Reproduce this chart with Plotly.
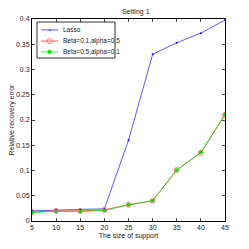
import plotly.graph_objects as go

x = [5, 10, 15, 20, 25, 30, 35, 40, 45]
lasso = [0.020, 0.022, 0.023, 0.024, 0.160, 0.330, 0.353, 0.372, 0.398]
beta01 = [0.018, 0.020, 0.020, 0.022, 0.032, 0.040, 0.101, 0.135, 0.210]
beta05 = [0.017, 0.019, 0.019, 0.021, 0.032, 0.040, 0.101, 0.136, 0.211]
names = ["Lasso", "Beta=0.1,alpha=0.5", "Beta=0.5,alpha=0.1"]
xticks = [5, 10, 15, 20, 25, 30, 35, 40, 45]
yticks = [0, 0.05, 0.1, 0.15, 0.2, 0.25, 0.3, 0.35, 0.4]
ytext = ["0", "0.05", "0.1", "0.15", "0.2", "0.25", "0.3", "0.35", "0.4"]

colors = ["#3030ff", "#ff3030", "#00ee00"]
mcolors = ["#0000ff", "#ff7070", "#00dd00"]

fig = go.Figure()
fig.add_trace(go.Scatter(x=x, y=lasso, name=names[0], mode="lines+markers",
                         line=dict(color=colors[0], width=0.8),
                         marker=dict(symbol="circle", size=2, color=mcolors[0])))
fig.add_trace(go.Scatter(x=x, y=beta01, name=names[1], mode="lines+markers",
                         line=dict(color=colors[1], width=0.8),
                         marker=dict(symbol="circle-open", size=5, color=mcolors[1],
                                     line=dict(width=1))))
fig.add_trace(go.Scatter(x=x, y=beta05, name=names[2], mode="lines+markers",
                         line=dict(color=colors[2], width=0.8),
                         marker=dict(symbol="circle", size=3.5, color=mcolors[2])))

# manual compact legend (MATLAB style)
shapes = [dict(type="rect", xref="paper", yref="paper", x0=0.026, x1=0.43, y0=0.807, y1=0.985,
               line=dict(color="black", width=0.8), fillcolor="white", layer="above")]
annotations = []
ypos = [0.946, 0.891, 0.837]
for i in range(3):
    shapes.append(dict(type="line", xref="paper", yref="paper", x0=0.047, x1=0.135,
                       y0=ypos[i], y1=ypos[i], line=dict(color=colors[i], width=0.8), layer="above"))
    annotations.append(dict(xref="paper", yref="paper", x=0.15, y=ypos[i], text=names[i],
                            showarrow=False, xanchor="left", yanchor="middle",
                            font=dict(size=6.5, color="#222")))
annotations.append(dict(xref="paper", yref="paper", x=0.091, y=ypos[0], text="•", showarrow=False,
                        xanchor="center", yanchor="middle", font=dict(size=5, color=mcolors[0])))
shapes.append(dict(type="circle", xref="paper", yref="paper", x0=0.078, x1=0.104,
                   y0=ypos[1] - 0.012, y1=ypos[1] + 0.012, line=dict(color=mcolors[1], width=1),
                   layer="above"))
shapes.append(dict(type="circle", xref="paper", yref="paper", x0=0.082, x1=0.1,
                   y0=ypos[2] - 0.009, y1=ypos[2] + 0.009, line=dict(color=mcolors[2], width=0.5),
                   fillcolor=mcolors[2], layer="above"))

# page body has an 8px default margin, so the figure is 241x241 offset by 8px
fig.update_layout(
    width=241, height=241,
    margin=dict(l=24, r=24, t=11, b=28, autoexpand=False),
    paper_bgcolor="white", plot_bgcolor="white",
    font=dict(family="Liberation Sans Narrow, Liberation Sans, Arial", size=7, color="#222"),
    title=dict(text="Setting 1", x=0.53, xanchor="center", y=0.995, yanchor="top",
               font=dict(size=7)),
    showlegend=False,
    shapes=shapes,
    annotations=annotations,
    xaxis=dict(range=[5, 45], tickvals=xticks, ticks="inside", ticklen=3, automargin=False,
               showline=True, mirror="ticks", linecolor="black", linewidth=1,
               showgrid=False, zeroline=False,
               title=dict(text="The size of support", standoff=2, font=dict(size=7))),
    yaxis=dict(range=[0, 0.4], tickvals=yticks, ticktext=ytext, ticks="inside", ticklen=3,
               automargin=False,
               showline=True, mirror="ticks", linecolor="black", linewidth=1,
               showgrid=False, zeroline=False,
               title=dict(text="Relative recovery error", standoff=2, font=dict(size=7))),
)

fig.write_html("out.html")
